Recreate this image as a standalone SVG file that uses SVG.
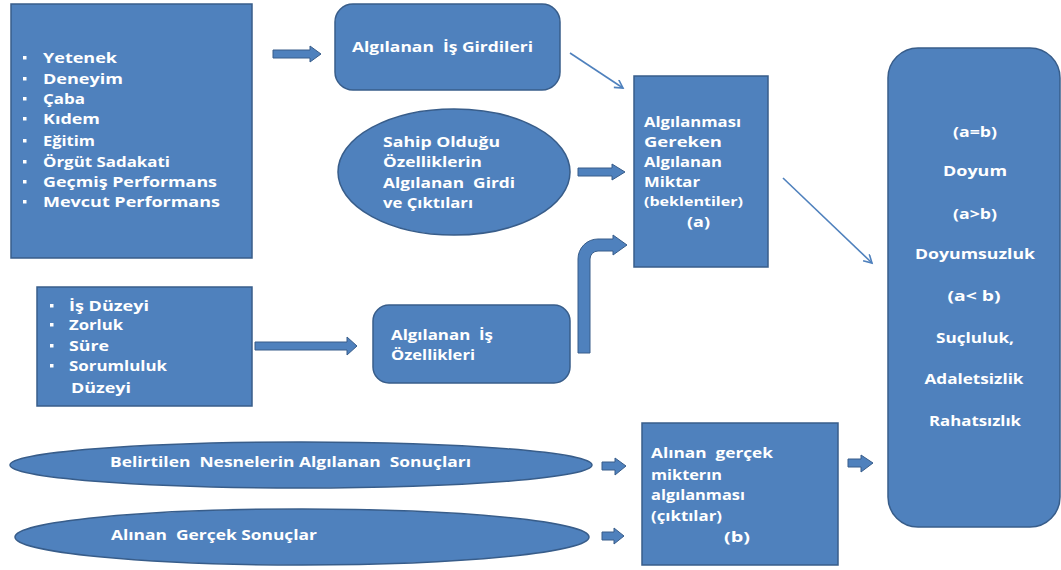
<svg xmlns="http://www.w3.org/2000/svg" width="1061" height="570" viewBox="0 0 1061 570">
  <defs>
    <style>
      .shape { fill: #4F81BD; stroke: #385D8A; stroke-width: 1.5; }
      .blk { fill: #4F81BD; stroke: #385D8A; stroke-width: 1; }
      .thin { stroke: #4F81BD; stroke-width: 1.6; fill: none; }
      .t { font-family: "Open Sans", "Liberation Sans", sans-serif; font-weight: 700; font-size: 14.5px; fill: #FFFFFF; white-space: pre; }
      .s { font-size: 12px; }
      .c { text-anchor: middle; }
      .dot { fill: #FFFFFF; }
    </style>
    <marker id="openHead" markerWidth="12" markerHeight="12" refX="9" refY="5" orient="auto" markerUnits="userSpaceOnUse">
      <path d="M1,0.5 L9,5 L1,9.5" fill="none" stroke="#4F81BD" stroke-width="1.6"/>
    </marker>
  </defs>
  <rect width="1061" height="570" fill="#FFFFFF"/>

  <!-- individual attributes -->
  <g id="node-attributes">
    <rect class="shape" x="11" y="4" width="241" height="254"/>
    <rect class="dot" x="23" y="56" width="3.5" height="3.5"/>
    <rect class="dot" x="23" y="77" width="3.5" height="3.5"/>
    <rect class="dot" x="23" y="97" width="3.5" height="3.5"/>
    <rect class="dot" x="23" y="117" width="3.5" height="3.5"/>
    <rect class="dot" x="23" y="139" width="3.5" height="3.5"/>
    <rect class="dot" x="23" y="160" width="3.5" height="3.5"/>
    <rect class="dot" x="23" y="180" width="3.5" height="3.5"/>
    <rect class="dot" x="23" y="200" width="3.5" height="3.5"/>
    <text class="t" x="43" y="63" textLength="74" lengthAdjust="spacingAndGlyphs">Yetenek</text>
    <text class="t" x="43" y="84" textLength="80" lengthAdjust="spacingAndGlyphs">Deneyim</text>
    <text class="t" x="43" y="104" textLength="42" lengthAdjust="spacingAndGlyphs">Çaba</text>
    <text class="t" x="43" y="124" textLength="57" lengthAdjust="spacingAndGlyphs">Kıdem</text>
    <text class="t" x="43" y="146" textLength="52" lengthAdjust="spacingAndGlyphs">Eğitim</text>
    <text class="t" x="43" y="167" textLength="127" lengthAdjust="spacingAndGlyphs">Örgüt Sadakati</text>
    <text class="t" x="43" y="187" textLength="174" lengthAdjust="spacingAndGlyphs">Geçmiş Performans</text>
    <text class="t" x="43" y="207" textLength="177" lengthAdjust="spacingAndGlyphs">Mevcut Performans</text>
  </g>

  <g id="node-perceived-inputs">
    <rect class="shape" x="335" y="4" width="225" height="86" rx="18" ry="18"/>
    <text class="t" x="352" y="52" textLength="181" lengthAdjust="spacingAndGlyphs">Algılanan  İş Girdileri</text>
  </g>

  <g id="node-others">
    <ellipse class="shape" cx="454" cy="172" rx="116" ry="63"/>
    <text class="t" x="383" y="147" textLength="117" lengthAdjust="spacingAndGlyphs">Sahip Olduğu</text>
    <text class="t" x="383" y="167" textLength="99" lengthAdjust="spacingAndGlyphs">Özelliklerin</text>
    <text class="t" x="383" y="188" textLength="132" lengthAdjust="spacingAndGlyphs">Algılanan  Girdi</text>
    <text class="t" x="383" y="208" textLength="90" lengthAdjust="spacingAndGlyphs">ve Çıktıları</text>
  </g>

  <g id="node-expected">
    <rect class="shape" x="634" y="76" width="134" height="191"/>
    <text class="t" x="644" y="127" textLength="97" lengthAdjust="spacingAndGlyphs">Algılanması</text>
    <text class="t" x="644" y="147" textLength="78" lengthAdjust="spacingAndGlyphs">Gereken</text>
    <text class="t" x="644" y="167" textLength="78" lengthAdjust="spacingAndGlyphs">Algılanan</text>
    <text class="t" x="644" y="187" textLength="56" lengthAdjust="spacingAndGlyphs">Miktar</text>
    <text class="t s" x="644" y="206" textLength="99" lengthAdjust="spacingAndGlyphs">(beklentiler)</text>
    <text class="t" x="687" y="227" textLength="23" lengthAdjust="spacingAndGlyphs">(a)</text>
  </g>

  <g id="node-job-factors">
    <rect class="shape" x="37" y="287" width="215" height="119"/>
    <rect class="dot" x="50" y="304" width="3.5" height="3.5"/>
    <rect class="dot" x="50" y="323" width="3.5" height="3.5"/>
    <rect class="dot" x="50" y="344" width="3.5" height="3.5"/>
    <rect class="dot" x="50" y="364" width="3.5" height="3.5"/>
    <text class="t" x="69" y="311" textLength="80" lengthAdjust="spacingAndGlyphs">İş Düzeyi</text>
    <text class="t" x="69" y="330" textLength="54" lengthAdjust="spacingAndGlyphs">Zorluk</text>
    <text class="t" x="69" y="351" textLength="40" lengthAdjust="spacingAndGlyphs">Süre</text>
    <text class="t" x="69" y="371" textLength="98" lengthAdjust="spacingAndGlyphs">Sorumluluk</text>
    <text class="t" x="71" y="393" textLength="60" lengthAdjust="spacingAndGlyphs">Düzeyi</text>
  </g>

  <g id="node-job-features">
    <rect class="shape" x="373" y="305" width="197" height="78" rx="16" ry="16"/>
    <text class="t" x="391" y="340" textLength="102" lengthAdjust="spacingAndGlyphs">Algılanan  İş</text>
    <text class="t" x="391" y="360" textLength="84" lengthAdjust="spacingAndGlyphs">Özellikleri</text>
  </g>

  <g id="node-outcomes-perceived">
    <ellipse class="shape" cx="301" cy="465" rx="291" ry="23"/>
    <text class="t" x="110" y="467" textLength="361" lengthAdjust="spacingAndGlyphs">Belirtilen  Nesnelerin Algılanan  Sonuçları</text>
  </g>

  <g id="node-outcomes-actual">
    <ellipse class="shape" cx="302" cy="537" rx="287" ry="28"/>
    <text class="t" x="111" y="540" textLength="206" lengthAdjust="spacingAndGlyphs">Alınan  Gerçek Sonuçlar</text>
  </g>

  <g id="node-received">
    <rect class="shape" x="642" y="423" width="196" height="142"/>
    <text class="t" x="651" y="458" textLength="122" lengthAdjust="spacingAndGlyphs">Alınan  gerçek</text>
    <text class="t" x="651" y="480" textLength="71" lengthAdjust="spacingAndGlyphs">mikterın</text>
    <text class="t" x="651" y="500" textLength="94" lengthAdjust="spacingAndGlyphs">algılanması</text>
    <text class="t" x="651" y="521" textLength="71" lengthAdjust="spacingAndGlyphs">(çıktılar)</text>
    <text class="t" x="724" y="542" textLength="26" lengthAdjust="spacingAndGlyphs">(b)</text>
  </g>

  <g id="node-result">
    <rect class="shape" x="888" y="48" width="172" height="479" rx="30" ry="30"/>
    <text class="t c" x="975" y="137" textLength="44" lengthAdjust="spacingAndGlyphs">(a=b)</text>
    <text class="t c" x="975" y="176" textLength="64" lengthAdjust="spacingAndGlyphs">Doyum</text>
    <text class="t c" x="975" y="219" textLength="44" lengthAdjust="spacingAndGlyphs">(a&gt;b)</text>
    <text class="t c" x="975" y="259" textLength="120" lengthAdjust="spacingAndGlyphs">Doyumsuzluk</text>
    <text class="t c" x="974" y="301" textLength="53" lengthAdjust="spacingAndGlyphs">(a&lt; b)</text>
    <text class="t c" x="975" y="343" textLength="78" lengthAdjust="spacingAndGlyphs">Suçluluk,</text>
    <text class="t c" x="974" y="384" textLength="99" lengthAdjust="spacingAndGlyphs">Adaletsizlik</text>
    <text class="t c" x="975" y="426" textLength="92" lengthAdjust="spacingAndGlyphs">Rahatsızlık</text>
  </g>

  <g id="connectors">
    <polygon class="blk" points="273,50 310,50 310,46 321,54 310,62 310,58 273,58"/>
    <polygon class="blk" points="578,168 612,168 612,164 625,172 612,180 612,176 578,176"/>
    <polygon class="blk" points="255,342 347,342 347,337 357,346 347,355 347,350 255,350"/>
    <path class="blk" d="M578,353 L578,259 A20,20 0 0 1 598,239 L613,239 L613,235 L627,245 L613,255 L613,251 L598,251 A8,8 0 0 0 590,259 L590,353 Z"/>
    <polygon class="blk" points="602,462 615,462 615,458 626,466 615,475 615,470 602,470"/>
    <polygon class="blk" points="602,532 614,532 614,528 624,536 614,544 614,540 602,540"/>
    <polygon class="blk" points="848,459 861,459 861,455 873,463 861,472 861,467 848,467"/>
    <line class="thin" x1="570" y1="53" x2="623" y2="88" marker-end="url(#openHead)"/>
    <line class="thin" x1="783" y1="178" x2="872" y2="263" marker-end="url(#openHead)"/>
  </g>
</svg>
